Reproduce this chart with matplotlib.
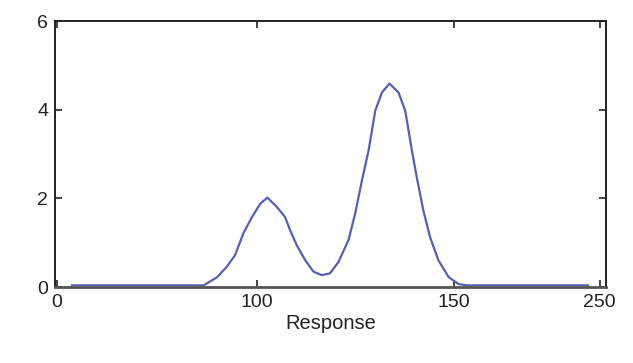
import matplotlib
matplotlib.use("Agg")
import matplotlib.pyplot as plt

# curve (x in axis units, y response)
x_vals = [53, 70, 86.4, 89.8, 92.3, 94.4, 96.5, 98.7, 100.8, 102.6, 105.0, 107.1,
          108.4, 110.1, 112.2, 114.3, 116.4, 118.5, 120.6, 123.2, 124.9, 126.6,
          128.3, 130.0, 131.7, 133.6, 135.9, 137.6, 139.3, 140.7, 142.2, 143.9,
          146.0, 148.6, 151.1, 153.2, 160, 184]
y_vals = [0.04, 0.04, 0.04, 0.22, 0.46, 0.72, 1.21, 1.58, 1.88, 2.02, 1.81, 1.58,
          1.28, 0.94, 0.61, 0.35, 0.27, 0.31, 0.56, 1.06, 1.66, 2.40,
          3.08, 3.98, 4.39, 4.59, 4.39, 3.98, 3.08, 2.40, 1.73, 1.13,
          0.61, 0.23, 0.07, 0.04, 0.04, 0.04]

x_tick_pos = [49.2, 100, 150, 187]
x_tick_labels = ["0", "100", "150", "250"]
y_ticks = [0, 2, 4, 6]

plt.rcParams["font.family"] = ["Liberation Sans", "DejaVu Sans"]

fig = plt.figure(figsize=(6.33, 3.63), dpi=100)
ax = fig.add_axes([0.0869, 0.209, 0.870, 0.733])

ax.plot(x_vals, y_vals, color="#5560b4", linewidth=1.6)

ax.set_xlim(48.7, 188.5)
ax.set_ylim(0, 6)
ax.set_xticks(x_tick_pos)
ax.set_xticklabels(x_tick_labels)
ax.set_yticks(y_ticks)

ax.tick_params(direction="in", length=5, width=1.2, colors="#222222",
               labelsize=14, labelcolor="#222222", top=True, right=True, pad=5)

for spine in ax.spines.values():
    spine.set_linewidth(1.4)
    spine.set_color("#222222")
ax.spines["bottom"].set_color("#555555")
ax.spines["bottom"].set_linewidth(2)

ax.set_xlabel("Response", fontsize=14.5, color="#222222", labelpad=2)

fig.savefig("out.png", dpi=100)
